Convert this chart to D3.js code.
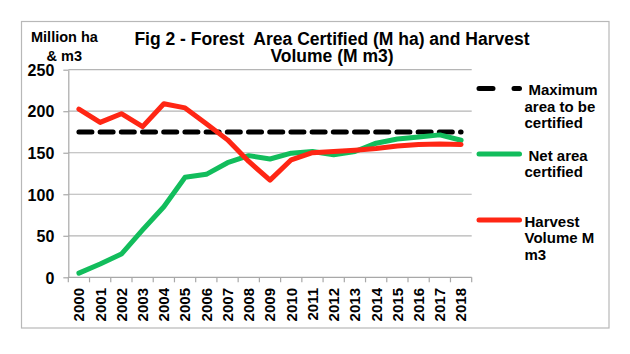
<!DOCTYPE html>
<html>
<head>
<meta charset="utf-8">
<script src="https://cdn.jsdelivr.net/npm/d3@7"></script>
<style>
  body { margin: 0; background: #fff; }
  svg { display: block; font-family: "Liberation Sans", Arial, sans-serif; font-weight: bold; }
  .grid line { stroke: #b5b5b5; stroke-width: 1.2; }
  .axis path, .axis line { stroke: #a8a8a8; stroke-width: 1.2; }
  .axis text { fill: #000; font-weight: bold; }
  .title { white-space: pre; }
</style>
</head>
<body>
<svg id="chart"></svg>
<script>
// Data
const years = ["2000", "2001", "2002", "2003", "2004", "2005", "2006", "2007", "2008", "2009",
  "2010", "2011", "2012", "2013", "2014", "2015", "2016", "2017", "2018"];
const maxArea = [175, 175, 175, 175, 175, 175, 175, 175, 175, 175,
  175, 175, 175, 175, 175, 175, 175, 175, 175];
const netArea = [5, 16, 28, 57, 85, 120.5, 124, 138, 146.5, 142.5,
  149.5, 151.5, 147.5, 151.5, 161.5, 166.5, 169, 171.5, 165];
const harvest = [202.5, 186.5, 197, 181.5, 209, 204, 185, 165.5, 139.5, 117,
  141.5, 150, 151.5, 153, 155, 158, 160, 160.5, 160];
const yTicks = [0, 50, 100, 150, 200, 250];

const titleLines = ["Fig 2 - Forest  Area Certified (M ha) and Harvest", "Volume (M m3)"];
const unitLines = ["Million ha", "& m3"];

const seriesList = [
  { name: ["Maximum", "area to be", "certified"], values: maxArea, color: "#000000", dash: "13,8.2" },
  { name: ["Net area", "certified"], values: netArea, color: "#12bd5c", dash: null },
  { name: ["Harvest", "Volume M", "m3"], values: harvest, color: "#ff2614", dash: null }
];

class LineChart {
  constructor(_config) {
    this.config = {
      parentElement: _config.parentElement,
      containerWidth: _config.containerWidth || 630,
      containerHeight: _config.containerHeight || 354,
      margin: _config.margin || { top: 69.7, right: 158.3, bottom: 76.7, left: 68.3 }
    };
    this.initVis();
  }

  initVis() {
    let vis = this;
    vis.width = vis.config.containerWidth - vis.config.margin.left - vis.config.margin.right;
    vis.height = vis.config.containerHeight - vis.config.margin.top - vis.config.margin.bottom;

    vis.xScale = d3.scaleBand().domain(years).range([0, vis.width]);
    vis.yScale = d3.scaleLinear().domain([0, 250]).range([vis.height, 0]);

    vis.svg = d3.select(vis.config.parentElement)
      .attr("width", vis.config.containerWidth)
      .attr("height", vis.config.containerHeight);

    // outer frame
    vis.svg.append("rect")
      .attr("x", 21.5).attr("y", 21.5)
      .attr("width", 587.5).attr("height", 306.5)
      .attr("fill", "none")
      .attr("stroke", "#b8b8b8")
      .attr("stroke-width", 1.2);

    vis.chart = vis.svg.append("g")
      .attr("transform", `translate(${vis.config.margin.left},${vis.config.margin.top})`);
  }

  renderVis() {
    let vis = this;

    // horizontal gridlines
    vis.chart.append("g")
      .attr("class", "grid")
      .selectAll("line")
      .data(yTicks.filter(d => d > 0))
      .join("line")
      .attr("x1", 0)
      .attr("x2", vis.width)
      .attr("y1", d => vis.yScale(d))
      .attr("y2", d => vis.yScale(d));

    // y axis
    vis.chart.append("g")
      .attr("class", "axis y-axis")
      .call(d3.axisLeft(vis.yScale).tickValues(yTicks).tickSize(5).tickSizeOuter(0).tickPadding(9))
      .call(g => g.selectAll("text").style("font-size", "16px").attr("dy", "0.36em"));

    // x axis, ticks sit on the band boundaries
    const xAxisG = vis.chart.append("g")
      .attr("class", "axis x-axis")
      .attr("transform", `translate(0,${vis.height})`);

    xAxisG.append("line")
      .attr("x1", 0).attr("x2", vis.width);

    xAxisG.selectAll(".tick-mark")
      .data(years.concat(["end"]))
      .join("line")
      .attr("class", "tick-mark")
      .attr("x1", (d, i) => i * vis.xScale.step())
      .attr("x2", (d, i) => i * vis.xScale.step())
      .attr("y1", 0)
      .attr("y2", 5);

    xAxisG.selectAll(".tick-label")
      .data(years)
      .join("text")
      .attr("class", "tick-label")
      .attr("transform", d => `translate(${vis.xScale(d) + vis.xScale.bandwidth() / 2},10.7) rotate(-90)`)
      .attr("text-anchor", "end")
      .attr("dy", "0.36em")
      .style("font-size", "15px")
      .text(d => d);

    // lines
    const line = d3.line()
      .x((d, i) => vis.xScale(years[i]) + vis.xScale.bandwidth() / 2)
      .y(d => vis.yScale(d));

    vis.chart.selectAll(".series")
      .data(seriesList)
      .join("path")
      .attr("class", "series")
      .attr("d", d => line(d.values))
      .attr("fill", "none")
      .attr("stroke", d => d.color)
      .attr("stroke-width", 5)
      .attr("stroke-linejoin", "round")
      .attr("stroke-linecap", "round")
      .attr("stroke-dasharray", d => d.dash);

    // title, two lines
    vis.svg.selectAll(".title")
      .data(titleLines)
      .join("text")
      .attr("class", "title")
      .attr("x", 332)
      .attr("y", (d, i) => 44.5 + i * 17.8)
      .attr("text-anchor", "middle")
      .style("font-size", "17.5px")
      .text(d => d);

    // units label
    vis.svg.selectAll(".units")
      .data(unitLines)
      .join("text")
      .attr("class", "units")
      .attr("x", (d, i) => i === 0 ? 31 : 46.5)
      .attr("y", (d, i) => 42 + i * 18.5)
      .style("font-size", "14.5px")
      .text(d => d);

    // legend
    const legendY = [88.5, 154, 220];
    const legend = vis.svg.selectAll(".legend")
      .data(seriesList)
      .join("g")
      .attr("class", "legend")
      .attr("transform", (d, i) => `translate(0,${legendY[i]})`);

    legend.append("line")
      .attr("x1", 479).attr("x2", 519.5)
      .attr("stroke", d => d.color)
      .attr("stroke-width", 5)
      .attr("stroke-linecap", "round")
      .attr("stroke-dasharray", d => d.dash ? "14,21" : null);

    legend.append("text")
      .style("font-size", "15px")
      .selectAll("tspan")
      .data(d => d.name)
      .join("tspan")
      .attr("x", (d, i) => i === 0 && d !== "Harvest" ? 528.5 : 524.5)
      .attr("y", (d, i) => 6.5 + i * 16.6)
      .text(d => d);
  }
}

const chart = new LineChart({ parentElement: "#chart" });
chart.renderVis();
</script>
</body>
</html>
